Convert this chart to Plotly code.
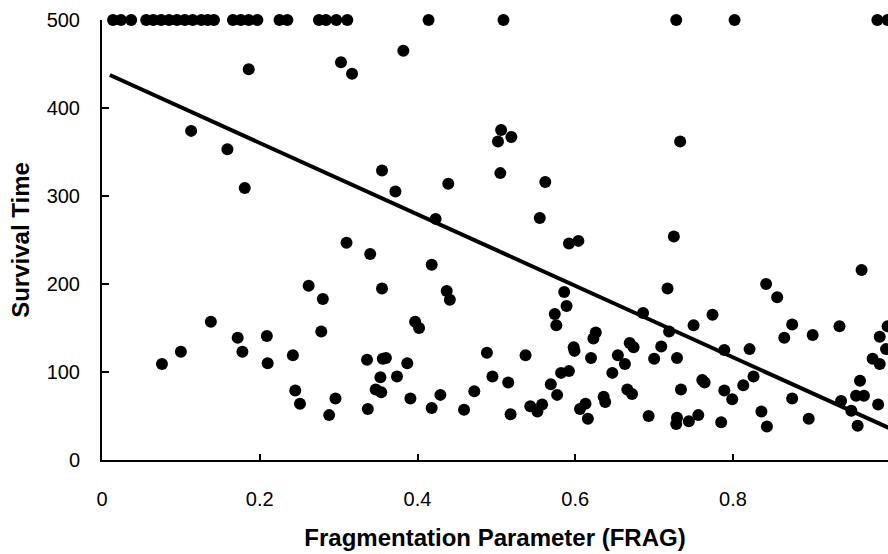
import plotly.graph_objects as go

# Fragmentation parameter (FRAG) of each observation
frag = [
    # survival capped at 500
    0.014, 0.024, 0.037, 0.056, 0.065, 0.075, 0.085, 0.095, 0.105, 0.115,
    0.126, 0.134, 0.142, 0.166, 0.176, 0.186, 0.197, 0.225, 0.235,
    0.275, 0.284, 0.297, 0.311,
    0.414, 0.509, 0.728, 0.802, 0.983, 0.996,
    # remaining observations
    0.186, 0.303, 0.317, 0.382, 0.113, 0.159, 0.181, 0.355, 0.310, 0.340,
    0.262, 0.280, 0.355,
    0.138, 0.100, 0.076, 0.172, 0.178, 0.209, 0.210, 0.278, 0.242, 0.245,
    0.251, 0.296, 0.288, 0.336, 0.356, 0.360, 0.353, 0.347, 0.354, 0.337,
    0.372, 0.439, 0.505, 0.562, 0.423, 0.555, 0.592, 0.604, 0.725, 0.418,
    0.437, 0.441, 0.586, 0.589, 0.717,
    0.506, 0.519, 0.502, 0.733,
    0.842, 0.856, 0.963,
    0.397, 0.402, 0.574, 0.576, 0.686, 0.719, 0.387, 0.374, 0.391, 0.418,
    0.429, 0.459, 0.472, 0.488, 0.495, 0.515, 0.518, 0.537, 0.543, 0.552,
    0.558, 0.569, 0.577, 0.582, 0.592, 0.598, 0.599, 0.626, 0.623, 0.620,
    0.606, 0.613, 0.616, 0.636, 0.638, 0.647, 0.654, 0.663, 0.669, 0.674,
    0.666, 0.672, 0.693, 0.700, 0.709,
    0.774, 0.750, 0.729, 0.789, 0.821, 0.761, 0.764, 0.734, 0.789, 0.799,
    0.813, 0.826, 0.729, 0.728, 0.744, 0.756, 0.785, 0.836, 0.843, 0.865,
    0.875, 0.901, 0.935, 0.875, 0.896, 0.937, 0.950, 0.958, 0.961, 0.956,
    0.966, 0.984, 0.977, 0.986, 0.986, 0.994, 0.996,
]

# Survival time of each observation
survival = [
    500, 500, 500, 500, 500, 500, 500, 500, 500, 500,
    500, 500, 500, 500, 500, 500, 500, 500, 500,
    500, 500, 500, 500,
    500, 500, 500, 500, 500, 500,
    444, 452, 439, 465, 374, 353, 309, 329, 247, 234,
    198, 183, 195,
    157, 123, 109, 139, 123, 141, 110, 146, 119, 79,
    64, 70, 51, 114, 115, 116, 94, 80, 77, 58,
    305, 314, 326, 316, 274, 275, 246, 249, 254, 222,
    192, 182, 191, 175, 195,
    375, 367, 362, 362,
    200, 185, 216,
    157, 150, 166, 153, 167, 146, 110, 95, 70, 59,
    74, 57, 78, 122, 95, 88, 52, 119, 61, 55,
    63, 86, 74, 99, 101, 128, 124, 145, 138, 116,
    58, 64, 47, 72, 66, 99, 119, 109, 133, 128,
    80, 75, 50, 115, 129,
    165, 153, 116, 125, 126, 91, 88, 80, 79, 69,
    85, 95, 48, 41, 44, 51, 43, 55, 38, 139,
    154, 142, 152, 70, 47, 67, 56, 39, 90, 73,
    73, 63, 115, 109, 140, 126, 152,
]

# Least-squares line: survival = intercept + slope * FRAG
fit_intercept = 441.5
fit_slope = -406.0
fit_frag = [0.01, 1.0]
fit_survival = [fit_intercept + fit_slope * f for f in fit_frag]

x_ticks = [0, 0.2, 0.4, 0.6, 0.8, 1.0]
x_tick_labels = ["0", "0.2", "0.4", "0.6", "0.8", "1"]
y_ticks = [0, 100, 200, 300, 400, 500]

FONT = "Liberation Sans, Arial, Helvetica, sans-serif"

fig = go.Figure()
fig.add_trace(go.Scatter(
    x=fit_frag, y=fit_survival, mode="lines",
    line=dict(color="black", width=4),
    cliponaxis=True, hoverinfo="skip",
))
fig.add_trace(go.Scatter(
    x=frag, y=survival, mode="markers",
    marker=dict(color="black", size=12, line=dict(width=0)),
    cliponaxis=False,
))

fig.update_layout(
    width=888, height=554,
    margin=dict(l=102, r=0, t=20, b=94),
    paper_bgcolor="white", plot_bgcolor="white",
    showlegend=False,
    font=dict(family=FONT, color="black", size=20),
    xaxis=dict(
        range=[0, 0.9965], tickvals=x_ticks, ticktext=x_tick_labels,
        ticks="inside", ticklen=6, tickwidth=2, tickcolor="black",
        showline=True, linewidth=2, linecolor="black",
        showgrid=False, zeroline=False,
        ticklabelstandoff=20,
        tickfont=dict(size=20),
        title=dict(text="<b>Fragmentation Parameter (FRAG)</b>",
                   font=dict(size=24), standoff=20),
    ),
    yaxis=dict(
        range=[0, 500], tickvals=y_ticks,
        ticks="inside", ticklen=7, tickwidth=2, tickcolor="black",
        showline=True, linewidth=2, linecolor="black",
        showgrid=False, zeroline=False,
        ticklabelstandoff=16,
        tickfont=dict(size=20),
        title=dict(text="<b>Survival Time</b>",
                   font=dict(size=24), standoff=10),
    ),
)

fig.write_html("out.html")
